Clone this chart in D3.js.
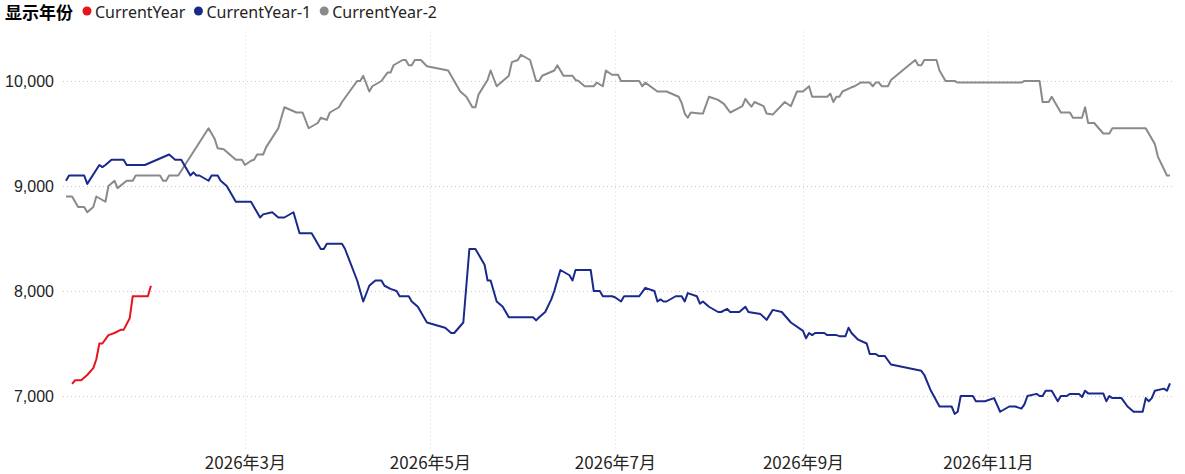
<!DOCTYPE html>
<html>
<head>
<meta charset="utf-8">
<script src="https://cdn.jsdelivr.net/npm/d3@7"></script>
<style>
body { margin: 0; background: #fff; }
svg { display: block; font-family: "Segoe UI", "Noto Sans", "Noto Sans CJK SC", sans-serif; }
</style>
</head>
<body>
<svg></svg>
<script>
const YEAR = '2026'

// CurrentYear
const cyDates = ['01-03','01-04','01-06','01-08','01-10','01-11','01-12','01-13','01-15','01-17','01-19','01-20','01-22','01-23','01-28','01-29']
const cyValues = [7115,7150,7150,7200,7265,7350,7500,7500,7580,7600,7630,7630,7740,7950,7950,8050]

// CurrentYear-1
const cy1Dates = ['01-01','01-02','01-07','01-08','01-12','01-13','01-14','01-16','01-20','01-21','01-27',
  '02-04','02-06','02-08','02-11','02-12','02-13','02-14','02-17','02-18','02-20','02-21','02-23','02-26',
  '03-03','03-06','03-07','03-10','03-12','03-14','03-17','03-19','03-23','03-26','03-27','03-28',
  '04-02','04-03','04-07','04-09','04-11','04-13','04-15','04-16','04-18','04-20','04-21','04-24','04-25','04-27','04-30',
  '05-06','05-08','05-09','05-12','05-14','05-16','05-19','05-20','05-21','05-22','05-23','05-25','05-27',
  '06-04','06-05','06-06','06-08','06-10','06-11','06-13','06-16','06-17','06-18','06-23','06-24','06-26','06-27','06-30',
  '07-01','07-03','07-04','07-09','07-11','07-14','07-15','07-16','07-17','07-18','07-21','07-23','07-24','07-25','07-28','07-29','07-30',
  '08-01','08-04','08-05','08-07','08-08','08-11','08-13','08-14','08-18','08-20','08-22','08-25','08-28',
  '09-01','09-02','09-03','09-04','09-05','09-08','09-09','09-12','09-13','09-15','09-16','09-17','09-19','09-22','09-23','09-25','09-26','09-28','09-30',
  '10-10','10-11','10-13','10-16','10-20','10-21','10-22','10-23','10-27','10-28','10-31',
  '11-03','11-05','11-08','11-10','11-12','11-13','11-14','11-17','11-18','11-19','11-20','11-22','11-24','11-25','11-27','11-28',
  '12-01','12-02','12-03','12-04','12-09','12-10','12-11','12-12','12-15','12-17','12-19','12-22','12-23','12-24','12-25','12-26','12-29','12-30','12-31']
const cy1Values = [9050,9100,9100,9020,9200,9180,9200,9250,9250,9200,9200,
  9300,9250,9250,9100,9130,9100,9100,9050,9100,9100,9050,9000,8850,
  8850,8700,8730,8750,8700,8700,8750,8550,8550,8400,8400,8450,
  8450,8400,8100,7900,8050,8100,8100,8050,8020,8000,7950,7950,7900,7850,7700,
  7650,7600,7600,7700,8400,8400,8250,8100,8100,8000,7900,7850,7750,
  7750,7720,7750,7800,7920,8000,8200,8150,8100,8200,8200,8000,8000,7950,7950,
  7940,7900,7950,7950,8030,8000,7900,7920,7900,7900,7950,7950,7900,7980,7950,7880,7900,
  7850,7800,7800,7830,7800,7800,7850,7800,7780,7725,7820,7800,7700,
  7620,7550,7600,7580,7600,7600,7580,7580,7570,7570,7650,7600,7540,7500,7400,7400,7380,7380,7300,
  7240,7200,7060,6900,6900,6830,6850,7000,7000,6950,6950,
  6980,6850,6900,6900,6880,6920,7000,7020,7000,7000,7050,7050,6950,7000,7000,7020,
  7020,6990,7050,7025,7025,6950,7000,6980,6980,6900,6850,6850,6980,6950,6980,7050,7070,7050,7120]

// CurrentYear-2
const cy2Dates = ['01-01','01-03','01-05','01-07','01-08','01-10','01-11','01-14','01-15','01-17','01-18','01-21','01-23','01-24',
  '02-01','02-02','02-03','02-04','02-07','02-17','02-19','02-20','02-22','02-26','02-28',
  '03-01','03-03','03-04','03-05','03-07','03-08','03-12','03-14','03-18','03-20','03-22','03-25','03-26','03-28','03-29',
  '04-01','04-02','04-07','04-08','04-09','04-11','04-12','04-15','04-17','04-18','04-19','04-22','04-23','04-24','04-25','04-26','04-28','04-30',
  '05-07','05-11','05-13','05-15','05-16','05-17','05-20','05-21','05-23','05-27','05-28','05-30','05-31',
  '06-03','06-05','06-06','06-07','06-11','06-12','06-14','06-17','06-18','06-19','06-21','06-24','06-25','06-27','06-28','06-30',
  '07-02','07-03','07-09','07-10','07-11','07-15','07-18','07-22','07-23','07-24','07-25','07-26','07-29','07-30',
  '08-01','08-04','08-06','08-07','08-08','08-10','08-12','08-13','08-14','08-15','08-16','08-19','08-20','08-22','08-26','08-28','08-30',
  '09-01','09-03','09-04','09-09','09-10','09-11','09-12','09-13','09-14','09-17','09-18','09-20','09-23','09-24','09-25','09-26','09-27','09-29','09-30',
  '10-08','10-09','10-10','10-11','10-15','10-16','10-18','10-21','10-22',
  '11-12','11-13','11-18','11-19','11-21','11-22','11-25','11-28','11-29',
  '12-02','12-03','12-04','12-06','12-09','12-11','12-12','12-23','12-26','12-27','12-30','12-31']
const cy2Values = [8900,8900,8800,8800,8750,8800,8900,8850,9000,9050,8980,9050,9050,9100,
  9100,9050,9050,9100,9100,9550,9450,9360,9350,9250,9250,
  9200,9240,9250,9300,9300,9370,9550,9750,9700,9700,9550,9600,9650,9630,9700,
  9750,9800,10000,10000,10050,9900,9950,10000,10080,10080,10150,10200,10200,10150,10150,10200,10200,10140,
  10100,9900,9850,9750,9750,9870,10010,10100,9950,10050,10180,10200,10250,
  10200,10000,10000,10050,10100,10150,10050,10050,10010,10000,9950,9950,9985,9950,10100,10060,
  10060,10000,10000,9950,9985,9900,9900,9850,9790,9690,9650,9700,9690,9690,
  9850,9820,9780,9740,9700,9730,9760,9830,9790,9755,9800,9760,9690,9680,9800,9760,9900,
  9900,9950,9850,9850,9880,9800,9850,9850,9900,9940,9950,9985,9985,9950,9985,9985,9950,9950,10010,
  10200,10150,10150,10200,10200,10100,10000,10000,9985,
  9985,10000,10000,9800,9800,9850,9700,9700,9650,
  9650,9750,9600,9600,9500,9500,9550,9550,9400,9280,9100,9100]

const seriesNames = ['CurrentYear','CurrentYear-1','CurrentYear-2']
const seriesColors = ['#e8141c','#1a2a8c','#8a8a8a']

const yTicks = [7000,8000,9000,10000]
const xTicks = ['03-01','05-01','07-01','09-01','11-01']

const width = 1185
const height = 474
const plotLeft = 63, plotRight = 1175, plotTop = 28.5, plotBottom = 448.5

const parse = d3.timeParse('%Y-%m-%d')
const toDate = (md) => parse(YEAR + '-' + md)

const svg = d3.select('svg').attr('width', width).attr('height', height)

const xScale = d3.scaleTime()
  .domain([toDate('01-01'), toDate('12-31')])
  .range([66, 1170])
const yScale = d3.scaleLinear()
  .domain([6500, 10500])
  .range([plotBottom, plotTop])

// grid + axes
const yAxis = d3.axisLeft(yScale)
  .tickValues(yTicks)
  .tickFormat(d3.format(','))
  .tickSize(-(plotRight - plotLeft))
  .tickPadding(9)
const gy = svg.append('g')
  .attr('transform', 'translate(' + plotLeft + ',0)')
  .call(yAxis)
gy.select('.domain').remove()
gy.selectAll('line').attr('stroke', '#c8c8c8').attr('stroke-dasharray', '1,3')
gy.selectAll('text').attr('fill', '#252423').style('font-size', '16px')

const xAxis = d3.axisBottom(xScale)
  .tickValues(xTicks.map(toDate))
  .tickFormat(d => d3.timeFormat('%Y')(d) + '年' + (d.getMonth() + 1) + '月')
  .tickSize(-(plotBottom - plotTop))
  .tickPadding(8)
const gx = svg.append('g')
  .attr('transform', 'translate(0,' + plotBottom + ')')
  .call(xAxis)
gx.select('.domain').remove()
gx.selectAll('line').attr('stroke', '#d8d8d8').attr('stroke-dasharray', '1,3')
gx.selectAll('text')
  .attr('fill', '#252423')
  .style('font-size', '17px')
  .style('font-family', '"Noto Sans CJK SC", sans-serif')

// lines
const makeSeries = (dates, values) => dates.map((d, i) => ({date: toDate(d), value: values[i]}))
const allSeries = [
  makeSeries(cyDates, cyValues),
  makeSeries(cy1Dates, cy1Values),
  makeSeries(cy2Dates, cy2Values)
]

const line = d3.line()
  .x(d => xScale(d.date))
  .y(d => yScale(d.value))

// draw oldest first so current year sits on top
;[2, 1, 0].forEach(i => {
  svg.append('path')
    .datum(allSeries[i])
    .attr('fill', 'none')
    .attr('stroke', seriesColors[i])
    .attr('stroke-width', 2)
    .attr('stroke-linejoin', 'round')
    .attr('d', line)
})

// legend
const legend = svg.append('g')
const title = legend.append('text')
  .attr('x', 5)
  .attr('y', 18.5)
  .attr('font-weight', 'bold')
  .style('font-size', '17px')
  .attr('fill', '#000')
  .text('显示年份')
let cursor = 5 + title.node().getComputedTextLength()
seriesNames.forEach((name, i) => {
  const cx = cursor + 14
  legend.append('circle')
    .attr('cx', cx)
    .attr('cy', 11)
    .attr('r', 4.5)
    .attr('fill', seriesColors[i])
  const t = legend.append('text')
    .attr('x', cx + 8)
    .attr('y', 18)
    .style('font-size', '16px')
    .attr('fill', '#252423')
    .text(name)
  cursor = cx + 8 + t.node().getComputedTextLength() - 1
})
</script>
</body>
</html>
